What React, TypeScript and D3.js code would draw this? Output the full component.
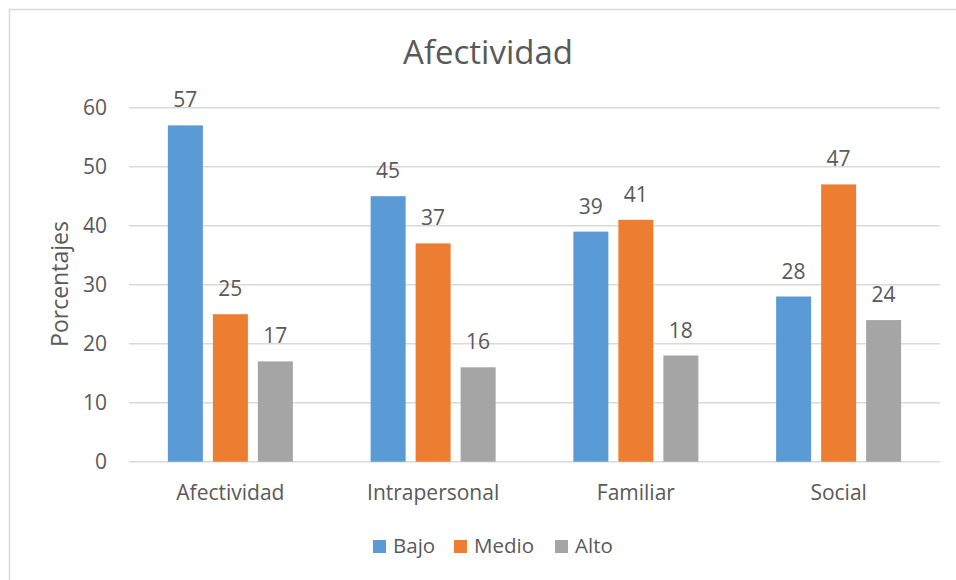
import React from 'react';
import * as d3 from 'd3';

const categories = ['Afectividad', 'Intrapersonal', 'Familiar', 'Social'];
const seriesNames = ['Bajo', 'Medio', 'Alto'];
const bajo = [57, 45, 39, 28];
const medio = [25, 37, 41, 47];
const alto = [17, 16, 18, 24];
const yTicks = [0, 10, 20, 30, 40, 50, 60];
const colors = ['#5B9BD5', '#ED7D31', '#A5A5A5'];

const W = 956;
const H = 580;
const FONT = '"Open Sans", "Liberation Sans", sans-serif';
const TEXT = '#595959';

const App: React.FC = () => {
  const values = [bajo, medio, alto];

  const x = d3.scaleBand<string>().domain(categories).range([129, 940]);
  const inner = d3
    .scaleBand<string>()
    .domain(seriesNames)
    .range([-67.5, 67.5])
    .paddingInner(10 / 45)
    .paddingOuter(5 / 45);
  const y = d3.scaleLinear().domain([0, 60]).range([461.7, 107.7]);

  return (
    <div style={{ position: 'absolute', left: 0, top: 0 }}>
      <svg width={W} height={H} style={{ display: 'block', fontFamily: FONT }}>
        <rect x={0} y={0} width={W} height={H} fill="#fff" />
        <rect x={9.5} y={9.5} width={W + 20} height={H + 20} fill="none" stroke="#D9D9D9" strokeWidth={1.5} />

        <text x={488} y={64} textAnchor="middle" fontSize={33} fill={TEXT}>
          Afectividad
        </text>

        {/* gridlines + y ticks */}
        {yTicks.map(t => (
          <g key={t}>
            <line x1={129} x2={940} y1={y(t)} y2={y(t)} stroke="#D9D9D9" strokeWidth={1.5} />
            <text x={107} y={y(t)} dy="0.35em" textAnchor="end" fontSize={21} fill={TEXT}>
              {t}
            </text>
          </g>
        ))}

        <text
          transform="translate(68,284) rotate(-90)"
          textAnchor="middle"
          fontSize={23}
          fill={TEXT}
        >
          Porcentajes
        </text>

        {/* bars + labels */}
        {seriesNames.map((s, si) =>
          categories.map((c, ci) => {
            const v = values[si][ci];
            const cx = x(c)! + x.bandwidth() / 2 + inner(s)!;
            return (
              <g key={s + c}>
                <rect
                  x={cx}
                  y={y(v)}
                  width={inner.bandwidth()}
                  height={y(0) - y(v)}
                  fill={colors[si]}
                />
                <text
                  x={cx + inner.bandwidth() / 2}
                  y={y(v) - 18}
                  textAnchor="middle"
                  fontSize={21}
                  fill={TEXT}
                >
                  {v}
                </text>
              </g>
            );
          })
        )}

        {/* category labels */}
        {categories.map(c => (
          <text
            key={c}
            x={x(c)! + x.bandwidth() / 2}
            y={500}
            textAnchor="middle"
            fontSize={21}
            fill={TEXT}
          >
            {c}
          </text>
        ))}

        {/* legend */}
        {seriesNames.map((s, i) => {
          const lx = [373, 454, 555][i];
          return (
            <g key={s}>
              <rect x={lx} y={540} width={13} height={13} fill={colors[i]} />
              <text x={lx + 20} y={553} fontSize={20.5} fill={TEXT}>
                {s}
              </text>
            </g>
          );
        })}
      </svg>
    </div>
  );
};

export default App;
